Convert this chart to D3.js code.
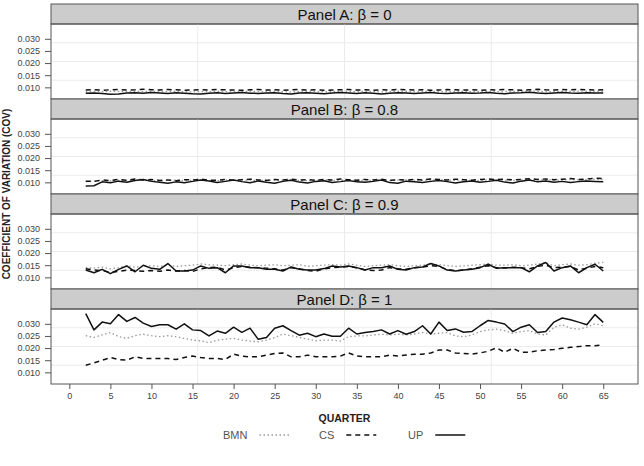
<!DOCTYPE html>
<html>
<head>
<meta charset="utf-8">
<script src="https://cdn.jsdelivr.net/npm/d3@7"></script>
<style>
  body { margin: 0; background: #fff; }
  text { font-family: "Liberation Sans", Arial, sans-serif; }
</style>
</head>
<body>
<div id="chart"></div>
<script>
// quarters on the x axis
var quarters = [2,3,4,5,6,7,8,9,
  10,11,12,13,14,15,16,17,
  18,19,20,21,22,23,24,25,
  26,27,28,29,30,31,32,33,
  34,35,36,37,38,39,40,41,
  42,43,44,45,46,47,48,49,
  50,51,52,53,54,55,56,57,
  58,59,60,61,62,63,64,65];

var panelTitles = ["Panel A: \u03b2 = 0", "Panel B: \u03b2 = 0.8", "Panel C: \u03b2 = 0.9", "Panel D: \u03b2 = 1"];
var seriesNames = ["BMN", "CS", "UP"];
var yTicks = [0.010, 0.015, 0.020, 0.025, 0.030];
var xTicks = [0, 5, 10, 15, 20, 25, 30, 35, 40, 45, 50, 55, 60, 65];

// Panel A: beta = 0
var bmnA = [0.0082,0.0083,0.0082,0.0084,0.0083,0.0082,0.0084,0.0083,
  0.0084,0.0082,0.0083,0.0084,0.0082,0.0081,0.0083,0.0082,
  0.0084,0.0083,0.0082,0.0083,0.0084,0.0082,0.0083,0.0084,
  0.0082,0.0081,0.0083,0.0084,0.0083,0.0082,0.0083,0.0084,
  0.0083,0.0082,0.0084,0.0083,0.0081,0.0082,0.0084,0.0083,
  0.0082,0.0083,0.0084,0.0083,0.0082,0.0083,0.0084,0.0082,
  0.0083,0.0084,0.0082,0.0083,0.0084,0.0083,0.0085,0.0084,
  0.0082,0.0083,0.0084,0.0083,0.0085,0.0084,0.0083,0.0084];
var csA = [0.0089,0.0090,0.0088,0.0090,0.0091,0.0089,0.0090,0.0092,
  0.0090,0.0089,0.0091,0.0090,0.0088,0.0089,0.0090,0.0089,
  0.0091,0.0090,0.0089,0.0088,0.0090,0.0091,0.0089,0.0090,
  0.0088,0.0090,0.0091,0.0089,0.0090,0.0088,0.0089,0.0090,
  0.0091,0.0089,0.0090,0.0088,0.0090,0.0089,0.0091,0.0090,
  0.0089,0.0090,0.0088,0.0089,0.0091,0.0090,0.0089,0.0090,
  0.0088,0.0090,0.0089,0.0091,0.0090,0.0088,0.0090,0.0092,
  0.0090,0.0089,0.0091,0.0090,0.0092,0.0090,0.0089,0.0090];
var upA = [0.0076,0.0077,0.0075,0.0072,0.0073,0.0077,0.0078,0.0076,
  0.0079,0.0077,0.0075,0.0078,0.0076,0.0074,0.0073,0.0076,
  0.0078,0.0075,0.0077,0.0079,0.0076,0.0075,0.0077,0.0078,
  0.0075,0.0073,0.0077,0.0078,0.0076,0.0074,0.0077,0.0079,
  0.0077,0.0075,0.0078,0.0076,0.0073,0.0076,0.0078,0.0077,
  0.0075,0.0077,0.0079,0.0076,0.0075,0.0077,0.0078,0.0076,
  0.0077,0.0079,0.0076,0.0074,0.0077,0.0078,0.0080,0.0077,
  0.0075,0.0077,0.0079,0.0077,0.0076,0.0078,0.0077,0.0077];

// Panel B: beta = 0.8
var bmnB = [0.0103,0.0105,0.0107,0.0106,0.0108,0.0107,0.0110,0.0109,
  0.0108,0.0106,0.0108,0.0109,0.0107,0.0108,0.0110,0.0108,
  0.0107,0.0109,0.0108,0.0110,0.0109,0.0107,0.0109,0.0108,
  0.0109,0.0110,0.0108,0.0107,0.0109,0.0110,0.0108,0.0109,
  0.0110,0.0108,0.0109,0.0108,0.0110,0.0107,0.0109,0.0110,
  0.0109,0.0108,0.0110,0.0111,0.0109,0.0108,0.0110,0.0109,
  0.0108,0.0110,0.0111,0.0109,0.0108,0.0110,0.0111,0.0110,
  0.0111,0.0109,0.0110,0.0112,0.0110,0.0111,0.0113,0.0112];
var csB = [0.0105,0.0104,0.0110,0.0107,0.0112,0.0108,0.0114,0.0110,
  0.0112,0.0108,0.0110,0.0107,0.0111,0.0110,0.0113,0.0109,
  0.0108,0.0112,0.0109,0.0111,0.0113,0.0110,0.0108,0.0112,
  0.0110,0.0113,0.0109,0.0111,0.0108,0.0112,0.0110,0.0114,
  0.0111,0.0109,0.0112,0.0110,0.0113,0.0108,0.0111,0.0109,
  0.0112,0.0110,0.0114,0.0112,0.0110,0.0113,0.0111,0.0109,
  0.0112,0.0114,0.0111,0.0113,0.0110,0.0112,0.0115,0.0112,
  0.0114,0.0111,0.0113,0.0116,0.0112,0.0114,0.0117,0.0116];
var upB = [0.0085,0.0086,0.0102,0.0098,0.0105,0.0100,0.0108,0.0112,
  0.0104,0.0100,0.0096,0.0102,0.0098,0.0104,0.0110,0.0106,
  0.0099,0.0104,0.0110,0.0103,0.0098,0.0106,0.0100,0.0096,
  0.0104,0.0109,0.0101,0.0097,0.0104,0.0107,0.0099,0.0103,
  0.0108,0.0102,0.0100,0.0104,0.0110,0.0099,0.0096,0.0105,
  0.0102,0.0099,0.0104,0.0108,0.0103,0.0097,0.0102,0.0106,
  0.0100,0.0104,0.0109,0.0101,0.0097,0.0105,0.0110,0.0102,
  0.0106,0.0100,0.0104,0.0099,0.0103,0.0106,0.0104,0.0102];

// Panel C: beta = 0.9
var bmnC = [0.0140,0.0138,0.0142,0.0135,0.0140,0.0148,0.0142,0.0145,
  0.0148,0.0145,0.0150,0.0145,0.0148,0.0150,0.0155,0.0152,
  0.0150,0.0148,0.0152,0.0155,0.0150,0.0148,0.0150,0.0152,
  0.0148,0.0150,0.0152,0.0145,0.0148,0.0150,0.0152,0.0150,
  0.0155,0.0150,0.0145,0.0148,0.0150,0.0152,0.0148,0.0145,
  0.0148,0.0150,0.0155,0.0152,0.0148,0.0145,0.0147,0.0150,
  0.0152,0.0155,0.0150,0.0150,0.0152,0.0148,0.0150,0.0155,
  0.0160,0.0148,0.0152,0.0155,0.0150,0.0152,0.0158,0.0162];
var csC = [0.0135,0.0130,0.0128,0.0120,0.0125,0.0130,0.0128,0.0125,
  0.0128,0.0125,0.0130,0.0126,0.0128,0.0124,0.0135,0.0140,
  0.0142,0.0130,0.0140,0.0145,0.0142,0.0140,0.0138,0.0135,
  0.0130,0.0140,0.0135,0.0128,0.0125,0.0135,0.0140,0.0142,
  0.0145,0.0140,0.0130,0.0128,0.0130,0.0140,0.0135,0.0133,
  0.0140,0.0142,0.0148,0.0145,0.0132,0.0128,0.0130,0.0135,
  0.0142,0.0148,0.0140,0.0138,0.0142,0.0140,0.0135,0.0145,
  0.0150,0.0140,0.0142,0.0145,0.0130,0.0138,0.0145,0.0140];
var upC = [0.0130,0.0119,0.0133,0.0115,0.0133,0.0147,0.0123,0.0150,
  0.0137,0.0133,0.0157,0.0126,0.0126,0.0130,0.0147,0.0137,
  0.0140,0.0119,0.0147,0.0147,0.0140,0.0140,0.0133,0.0133,
  0.0126,0.0143,0.0133,0.0130,0.0130,0.0136,0.0147,0.0143,
  0.0147,0.0140,0.0130,0.0140,0.0140,0.0147,0.0133,0.0130,
  0.0140,0.0143,0.0157,0.0147,0.0130,0.0126,0.0130,0.0133,
  0.0140,0.0154,0.0137,0.0140,0.0140,0.0140,0.0123,0.0147,
  0.0161,0.0126,0.0140,0.0147,0.0119,0.0140,0.0154,0.0126];

// Panel D: beta = 1
var bmnD = [0.0251,0.0244,0.0254,0.0264,0.0247,0.0240,0.0251,0.0257,
  0.0251,0.0247,0.0251,0.0247,0.0240,0.0233,0.0230,0.0222,
  0.0233,0.0237,0.0240,0.0233,0.0229,0.0226,0.0233,0.0243,
  0.0258,0.0251,0.0244,0.0237,0.0230,0.0233,0.0233,0.0229,
  0.0247,0.0250,0.0250,0.0254,0.0257,0.0254,0.0257,0.0254,
  0.0258,0.0264,0.0258,0.0261,0.0264,0.0250,0.0247,0.0254,
  0.0268,0.0275,0.0278,0.0272,0.0261,0.0268,0.0272,0.0258,
  0.0254,0.0286,0.0296,0.0282,0.0278,0.0286,0.0300,0.0292];
var csD = [0.0129,0.0139,0.0150,0.0161,0.0153,0.0150,0.0164,0.0157,
  0.0157,0.0157,0.0157,0.0153,0.0161,0.0167,0.0161,0.0157,
  0.0157,0.0153,0.0175,0.0167,0.0164,0.0164,0.0171,0.0178,
  0.0180,0.0164,0.0164,0.0171,0.0164,0.0164,0.0164,0.0167,
  0.0180,0.0167,0.0164,0.0164,0.0164,0.0171,0.0167,0.0171,
  0.0175,0.0175,0.0180,0.0192,0.0192,0.0180,0.0178,0.0175,
  0.0180,0.0187,0.0201,0.0183,0.0199,0.0183,0.0183,0.0189,
  0.0192,0.0194,0.0199,0.0203,0.0206,0.0210,0.0210,0.0213];
var upD = [0.0342,0.0275,0.0307,0.0300,0.0338,0.0310,0.0326,0.0303,
  0.0289,0.0296,0.0296,0.0278,0.0300,0.0275,0.0272,0.0250,
  0.0270,0.0261,0.0286,0.0265,0.0282,0.0236,0.0244,0.0282,
  0.0292,0.0272,0.0253,0.0261,0.0247,0.0258,0.0249,0.0249,
  0.0282,0.0258,0.0264,0.0268,0.0275,0.0258,0.0272,0.0257,
  0.0268,0.0292,0.0258,0.0307,0.0272,0.0279,0.0265,0.0268,
  0.0292,0.0314,0.0307,0.0299,0.0268,0.0286,0.0296,0.0264,
  0.0268,0.0307,0.0324,0.0317,0.0307,0.0296,0.0338,0.0306];

// one row of series per panel, in the order BMN, CS, UP
var panelSeries = [[bmnA, csA, upA], [bmnB, csB, upB], [bmnC, csC, upC], [bmnD, csD, upD]];

// line styles for the three series
var lineStyle = {
  BMN: {stroke: "#9a9a9a", width: 1.3, dash: "1.5,2.5"},
  CS:  {stroke: "#111", width: 1.5, dash: "5,4"},
  UP:  {stroke: "#111", width: 1.5, dash: null}
};

// set the dimensions of the panels
var margin = {top: 4, left: 51},
    width = 587,
    stripH = 20,
    plotH = 75,
    panelH = stripH + plotH;

var svg = d3.select("#chart")
  .append("svg")
    .attr("width", 644)
    .attr("height", 466);

var x = d3.scaleLinear()
  .domain([-2.23, 69.23])
  .range([0, width]);
var y = d3.scaleLinear()
  .domain([0.0052, 0.0361])
  .range([plotH, 0]);

var line = d3.line()
  .x(function(d, i) { return x(quarters[i]); })
  .y(function(d) { return y(d); });

panelTitles.forEach(function(title, p) {
  var g = svg.append("g")
    .attr("transform", "translate(" + margin.left + "," + (margin.top + p * panelH) + ")");

  // strip with the panel title
  g.append("rect")
    .attr("width", width)
    .attr("height", stripH)
    .attr("fill", "#cccccc")
    .attr("stroke", "#555")
    .attr("stroke-width", 1);
  g.append("text")
    .attr("x", width / 2)
    .attr("y", stripH / 2 + 5.5)
    .attr("text-anchor", "middle")
    .style("font-size", "15px")
    .attr("fill", "#111")
    .text(title);

  var plot = g.append("g").attr("transform", "translate(0," + stripH + ")");

  // light grid, four equal parts each way
  [1, 2, 3].forEach(function(k) {
    plot.append("line")
      .attr("x1", width * k / 4).attr("x2", width * k / 4)
      .attr("y1", 0).attr("y2", plotH)
      .attr("stroke", "#ebebeb");
    plot.append("line")
      .attr("x1", 0).attr("x2", width)
      .attr("y1", plotH * k / 4).attr("y2", plotH * k / 4)
      .attr("stroke", "#ebebeb");
  });

  // y axis
  var ya = plot.append("g")
    .call(d3.axisLeft(y).tickValues(yTicks).tickFormat(d3.format(".3f")).tickSize(6).tickPadding(5));
  ya.select(".domain").remove();
  ya.selectAll("line").attr("stroke", "#555");
  ya.selectAll("text").style("font-size", "9px").attr("fill", "#444");

  // series lines
  seriesNames.forEach(function(name, s) {
    var st = lineStyle[name];
    plot.append("path")
      .datum(panelSeries[p][s])
      .attr("d", line)
      .attr("fill", "none")
      .attr("stroke", st.stroke)
      .attr("stroke-width", st.width)
      .attr("stroke-dasharray", st.dash)
      .attr("stroke-linejoin", "round");
  });

  // frame
  plot.append("rect")
    .attr("width", width)
    .attr("height", plotH)
    .attr("fill", "none")
    .attr("stroke", "#555")
    .attr("stroke-width", 1);

  // x axis only under the last panel
  if (p === panelTitles.length - 1) {
    var xa = plot.append("g")
      .attr("transform", "translate(0," + plotH + ")")
      .call(d3.axisBottom(x).tickValues(xTicks).tickSize(5).tickPadding(4));
    xa.select(".domain").remove();
    xa.selectAll("line").attr("stroke", "#555");
    xa.selectAll("text").style("font-size", "9px").attr("fill", "#444");
  }
});

var bottom = margin.top + panelTitles.length * panelH;

// axis titles
svg.append("text")
  .attr("x", margin.left + width / 2)
  .attr("y", bottom + 38)
  .attr("text-anchor", "middle")
  .style("font-size", "10.5px")
  .style("font-weight", "bold")
  .attr("fill", "#222")
  .text("QUARTER");

svg.append("text")
  .attr("transform", "translate(10," + (margin.top + panelTitles.length * panelH / 2) + ") rotate(-90)")
  .attr("text-anchor", "middle")
  .style("font-size", "10px")
  .style("font-weight", "bold")
  .attr("fill", "#222")
  .text("COEFFICIENT OF VARIATION (COV)");

// legend
var legendX = [223, 319, 408];
var legend = svg.append("g").attr("transform", "translate(0," + (bottom + 51) + ")");
seriesNames.forEach(function(name, i) {
  var st = lineStyle[name];
  var t = legend.append("text")
    .attr("x", legendX[i])
    .attr("y", 4)
    .style("font-size", "11px")
    .attr("fill", "#555")
    .text(name);
  var tw = t.node().getComputedTextLength();
  legend.append("line")
    .attr("x1", legendX[i] + tw + 12)
    .attr("x2", legendX[i] + tw + 42)
    .attr("y1", 0).attr("y2", 0)
    .attr("stroke", st.stroke)
    .attr("stroke-width", st.width)
    .attr("stroke-dasharray", st.dash);
});
</script>
</body>
</html>
